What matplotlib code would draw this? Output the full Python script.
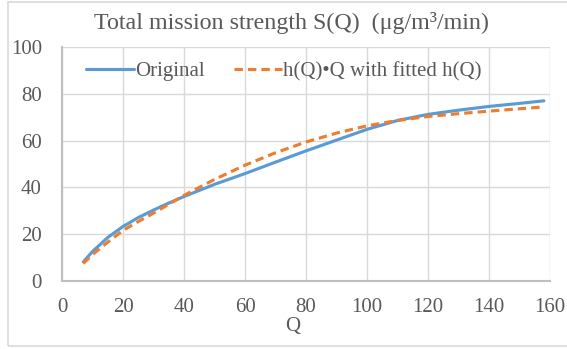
import matplotlib
matplotlib.use('Agg')
import matplotlib.pyplot as plt
from matplotlib.patches import Rectangle

# Q values and the two curves
q = [7, 10, 15, 20, 25, 30, 35, 40, 50, 60, 70, 80, 90, 100, 110, 120, 130, 140, 150, 158]
s_original = [8.2, 12.6, 18.6, 23.3, 27.1, 30.3, 33.3, 36.1, 41.3, 45.9, 50.8, 55.6, 60.2,
              64.8, 68.6, 71.2, 73.0, 74.6, 75.9, 77.0]
s_fitted = [7.5, 11.3, 16.6, 21.6, 25.4, 29.0, 32.8, 36.6, 43.4, 49.5, 54.8, 59.4, 63.2,
            66.3, 68.6, 70.3, 71.5, 72.6, 73.6, 74.4]

xticks = [0, 20, 40, 60, 80, 100, 120, 140, 160]
yticks = [0, 20, 40, 60, 80, 100]

plt.rcParams['font.family'] = ['Liberation Serif', 'DejaVu Serif']

W, H = 567, 349
fig = plt.figure(figsize=(W / 100, H / 100), dpi=100)

# outer chart frame like Excel
fig.patches.append(Rectangle((8 / W, 1 - 345.5 / H), 1.0, (345.5 - 2) / H,
                             transform=fig.transFigure, fill=False,
                             edgecolor='#d9d9d9', linewidth=1.2))

ax = fig.add_axes([62 / W, 1 - 281 / H, (550 - 62) / W, (281 - 47) / H])

ax.plot(q, s_original, color='#5B9BD5', lw=2.25, label='Original', solid_capstyle='round')
ax.plot(q, s_fitted, color='#ED7D31', lw=2.25, dashes=(2.7, 1.6), label='h(Q)\u2022Q with fitted h(Q)')

ax.set_xlim(0, 160)
ax.set_ylim(0, 100)
ax.set_xticks(xticks)
ax.set_yticks(yticks)
ax.grid(True, color='#d9d9d9', lw=1.0)
ax.set_axisbelow(True)
ax.tick_params(length=0, labelsize=15, colors='#595959')
ax.tick_params(axis='y', pad=14.5)
ax.tick_params(axis='x', pad=12)
for side in ['top', 'right']:
    ax.spines[side].set_visible(False)
for side in ['left', 'bottom']:
    ax.spines[side].set_color('#bfbfbf')
    ax.spines[side].set_linewidth(1.5)

fig.text(291 / W, 1 - 23 / H, 'Total mission strength S(Q)  (\u03bcg/m\u00b3/min)',
         ha='center', va='center', fontsize=17.3, color='#595959')
fig.text(293 / W, 1 - 327 / H, 'Q', ha='center', va='center', fontsize=15, color='#595959')

leg = ax.legend(loc='center', bbox_to_anchor=(0.455, 0.895), ncol=2, frameon=False,
                fontsize=15, handlelength=2.3, handletextpad=0.05, columnspacing=1.4)
for t in leg.get_texts():
    t.set_color('#595959')

plt.savefig('out.png', dpi=100)
plt.close()
